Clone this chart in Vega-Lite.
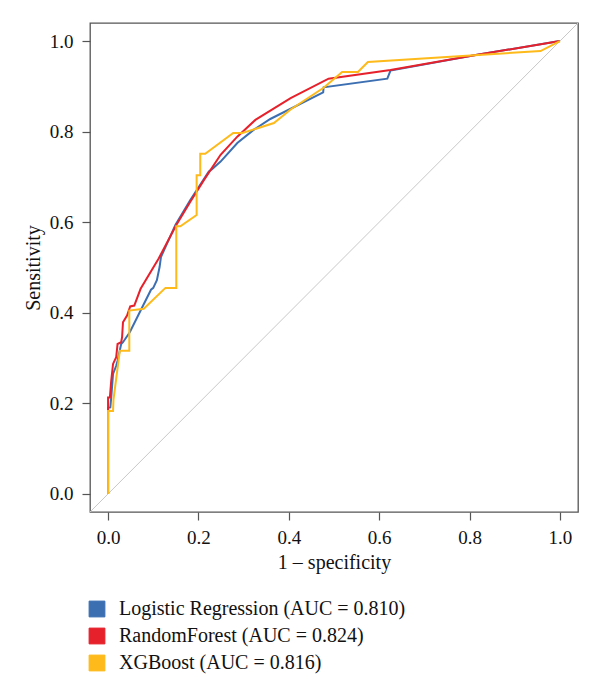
{
  "$schema": "https://vega.github.io/schema/vega-lite/v6.json",
  "width": 488,
  "height": 489,
  "autosize": {"type": "none"},
  "padding": {"left": 90, "top": 23, "right": 22, "bottom": 176},
  "background": "white",
  "config": {
    "font": "Liberation Serif",
    "view": {"stroke": "#555555", "strokeWidth": 1.3},
    "axis": {
      "grid": false,
      "domain": false,
      "tickColor": "#555555",
      "tickWidth": 1.2,
      "tickSize": 8,
      "labelFont": "Liberation Serif",
      "labelFontSize": 19,
      "labelColor": "#111111",
      "titleFont": "Liberation Serif",
      "titleFontSize": 20,
      "titleFontWeight": "normal",
      "titleColor": "#111111"
    }
  },
  "datasets": {
    "diag": [{"x": -0.04, "y": -0.04}, {"x": 1.04, "y": 1.04}],
    "roc": [
      {"model": "Logistic Regression (AUC = 0.810)", "i": 0, "x": 0, "y": 0},
      {"model": "Logistic Regression (AUC = 0.810)", "i": 1, "x": 0, "y": 0.19},
      {"model": "Logistic Regression (AUC = 0.810)", "i": 2, "x": 0.005, "y": 0.191},
      {"model": "Logistic Regression (AUC = 0.810)", "i": 3, "x": 0.007, "y": 0.213},
      {"model": "Logistic Regression (AUC = 0.810)", "i": 4, "x": 0.011, "y": 0.265},
      {"model": "Logistic Regression (AUC = 0.810)", "i": 5, "x": 0.018, "y": 0.283},
      {"model": "Logistic Regression (AUC = 0.810)", "i": 6, "x": 0.021, "y": 0.294},
      {"model": "Logistic Regression (AUC = 0.810)", "i": 7, "x": 0.029, "y": 0.331},
      {"model": "Logistic Regression (AUC = 0.810)", "i": 8, "x": 0.033, "y": 0.335},
      {"model": "Logistic Regression (AUC = 0.810)", "i": 9, "x": 0.048, "y": 0.357},
      {"model": "Logistic Regression (AUC = 0.810)", "i": 10, "x": 0.072, "y": 0.405},
      {"model": "Logistic Regression (AUC = 0.810)", "i": 11, "x": 0.095, "y": 0.451},
      {"model": "Logistic Regression (AUC = 0.810)", "i": 12, "x": 0.1, "y": 0.455},
      {"model": "Logistic Regression (AUC = 0.810)", "i": 13, "x": 0.108, "y": 0.472},
      {"model": "Logistic Regression (AUC = 0.810)", "i": 14, "x": 0.114, "y": 0.501},
      {"model": "Logistic Regression (AUC = 0.810)", "i": 15, "x": 0.117, "y": 0.523},
      {"model": "Logistic Regression (AUC = 0.810)", "i": 16, "x": 0.149, "y": 0.594},
      {"model": "Logistic Regression (AUC = 0.810)", "i": 17, "x": 0.182, "y": 0.649},
      {"model": "Logistic Regression (AUC = 0.810)", "i": 18, "x": 0.223, "y": 0.712},
      {"model": "Logistic Regression (AUC = 0.810)", "i": 19, "x": 0.23, "y": 0.717},
      {"model": "Logistic Regression (AUC = 0.810)", "i": 20, "x": 0.249, "y": 0.734},
      {"model": "Logistic Regression (AUC = 0.810)", "i": 21, "x": 0.286, "y": 0.775},
      {"model": "Logistic Regression (AUC = 0.810)", "i": 22, "x": 0.322, "y": 0.804},
      {"model": "Logistic Regression (AUC = 0.810)", "i": 23, "x": 0.359, "y": 0.828},
      {"model": "Logistic Regression (AUC = 0.810)", "i": 24, "x": 0.476, "y": 0.887},
      {"model": "Logistic Regression (AUC = 0.810)", "i": 25, "x": 0.477, "y": 0.898},
      {"model": "Logistic Regression (AUC = 0.810)", "i": 26, "x": 0.618, "y": 0.917},
      {"model": "Logistic Regression (AUC = 0.810)", "i": 27, "x": 0.625, "y": 0.935},
      {"model": "Logistic Regression (AUC = 0.810)", "i": 28, "x": 0.817, "y": 0.97},
      {"model": "Logistic Regression (AUC = 0.810)", "i": 29, "x": 1, "y": 1},
      {"model": "RandomForest (AUC = 0.824)", "i": 0, "x": 0, "y": 0},
      {"model": "RandomForest (AUC = 0.824)", "i": 1, "x": 0, "y": 0.213},
      {"model": "RandomForest (AUC = 0.824)", "i": 2, "x": 0.004, "y": 0.213},
      {"model": "RandomForest (AUC = 0.824)", "i": 3, "x": 0.007, "y": 0.25},
      {"model": "RandomForest (AUC = 0.824)", "i": 4, "x": 0.011, "y": 0.287},
      {"model": "RandomForest (AUC = 0.824)", "i": 5, "x": 0.018, "y": 0.302},
      {"model": "RandomForest (AUC = 0.824)", "i": 6, "x": 0.021, "y": 0.331},
      {"model": "RandomForest (AUC = 0.824)", "i": 7, "x": 0.029, "y": 0.335},
      {"model": "RandomForest (AUC = 0.824)", "i": 8, "x": 0.031, "y": 0.346},
      {"model": "RandomForest (AUC = 0.824)", "i": 9, "x": 0.033, "y": 0.379},
      {"model": "RandomForest (AUC = 0.824)", "i": 10, "x": 0.042, "y": 0.394},
      {"model": "RandomForest (AUC = 0.824)", "i": 11, "x": 0.049, "y": 0.414},
      {"model": "RandomForest (AUC = 0.824)", "i": 12, "x": 0.058, "y": 0.416},
      {"model": "RandomForest (AUC = 0.824)", "i": 13, "x": 0.072, "y": 0.453},
      {"model": "RandomForest (AUC = 0.824)", "i": 14, "x": 0.112, "y": 0.52},
      {"model": "RandomForest (AUC = 0.824)", "i": 15, "x": 0.151, "y": 0.594},
      {"model": "RandomForest (AUC = 0.824)", "i": 16, "x": 0.182, "y": 0.645},
      {"model": "RandomForest (AUC = 0.824)", "i": 17, "x": 0.212, "y": 0.693},
      {"model": "RandomForest (AUC = 0.824)", "i": 18, "x": 0.249, "y": 0.749},
      {"model": "RandomForest (AUC = 0.824)", "i": 19, "x": 0.286, "y": 0.789},
      {"model": "RandomForest (AUC = 0.824)", "i": 20, "x": 0.326, "y": 0.826},
      {"model": "RandomForest (AUC = 0.824)", "i": 21, "x": 0.404, "y": 0.874},
      {"model": "RandomForest (AUC = 0.824)", "i": 22, "x": 0.488, "y": 0.917},
      {"model": "RandomForest (AUC = 0.824)", "i": 23, "x": 0.625, "y": 0.936},
      {"model": "RandomForest (AUC = 0.824)", "i": 24, "x": 0.817, "y": 0.97},
      {"model": "RandomForest (AUC = 0.824)", "i": 25, "x": 1, "y": 1},
      {"model": "XGBoost (AUC = 0.816)", "i": 0, "x": 0, "y": 0},
      {"model": "XGBoost (AUC = 0.816)", "i": 1, "x": 0, "y": 0.183},
      {"model": "XGBoost (AUC = 0.816)", "i": 2, "x": 0.011, "y": 0.183},
      {"model": "XGBoost (AUC = 0.816)", "i": 3, "x": 0.012, "y": 0.209},
      {"model": "XGBoost (AUC = 0.816)", "i": 4, "x": 0.026, "y": 0.316},
      {"model": "XGBoost (AUC = 0.816)", "i": 5, "x": 0.047, "y": 0.316},
      {"model": "XGBoost (AUC = 0.816)", "i": 6, "x": 0.047, "y": 0.405},
      {"model": "XGBoost (AUC = 0.816)", "i": 7, "x": 0.079, "y": 0.409},
      {"model": "XGBoost (AUC = 0.816)", "i": 8, "x": 0.127, "y": 0.455},
      {"model": "XGBoost (AUC = 0.816)", "i": 9, "x": 0.151, "y": 0.455},
      {"model": "XGBoost (AUC = 0.816)", "i": 10, "x": 0.151, "y": 0.591},
      {"model": "XGBoost (AUC = 0.816)", "i": 11, "x": 0.16, "y": 0.591},
      {"model": "XGBoost (AUC = 0.816)", "i": 12, "x": 0.196, "y": 0.616},
      {"model": "XGBoost (AUC = 0.816)", "i": 13, "x": 0.196, "y": 0.704},
      {"model": "XGBoost (AUC = 0.816)", "i": 14, "x": 0.204, "y": 0.704},
      {"model": "XGBoost (AUC = 0.816)", "i": 15, "x": 0.204, "y": 0.751},
      {"model": "XGBoost (AUC = 0.816)", "i": 16, "x": 0.215, "y": 0.751},
      {"model": "XGBoost (AUC = 0.816)", "i": 17, "x": 0.277, "y": 0.797},
      {"model": "XGBoost (AUC = 0.816)", "i": 18, "x": 0.297, "y": 0.797},
      {"model": "XGBoost (AUC = 0.816)", "i": 19, "x": 0.367, "y": 0.819},
      {"model": "XGBoost (AUC = 0.816)", "i": 20, "x": 0.404, "y": 0.849},
      {"model": "XGBoost (AUC = 0.816)", "i": 21, "x": 0.477, "y": 0.897},
      {"model": "XGBoost (AUC = 0.816)", "i": 22, "x": 0.518, "y": 0.932},
      {"model": "XGBoost (AUC = 0.816)", "i": 23, "x": 0.553, "y": 0.932},
      {"model": "XGBoost (AUC = 0.816)", "i": 24, "x": 0.575, "y": 0.954},
      {"model": "XGBoost (AUC = 0.816)", "i": 25, "x": 0.957, "y": 0.978},
      {"model": "XGBoost (AUC = 0.816)", "i": 26, "x": 1, "y": 1}
    ]
  },
  "layer": [
    {
      "data": {"name": "diag"},
      "mark": {"type": "line", "color": "#c8c8c8", "strokeWidth": 1, "clip": true},
      "encoding": {
        "x": {"field": "x", "type": "quantitative", "scale": {"domain": [-0.04, 1.04], "nice": false, "zero": false}},
        "y": {"field": "y", "type": "quantitative", "scale": {"domain": [-0.04, 1.04], "nice": false, "zero": false}}
      }
    },
    {
      "data": {"name": "roc"},
      "mark": {"type": "line", "strokeWidth": 2, "clip": true},
      "encoding": {
        "x": {
          "field": "x", "type": "quantitative",
          "scale": {"domain": [-0.04, 1.04], "nice": false, "zero": false},
          "axis": {"values": [0, 0.2, 0.4, 0.6, 0.8, 1], "format": ".1f", "title": "1 – specificity", "labelPadding": 8, "titlePadding": 5}
        },
        "y": {
          "field": "y", "type": "quantitative",
          "scale": {"domain": [-0.04, 1.04], "nice": false, "zero": false},
          "axis": {"values": [0, 0.2, 0.4, 0.6, 0.8, 1], "format": ".1f", "title": "Sensitivity", "labelPadding": 9, "titlePadding": 6}
        },
        "color": {
          "field": "model", "type": "nominal",
          "scale": {
            "domain": ["Logistic Regression (AUC = 0.810)", "RandomForest (AUC = 0.824)", "XGBoost (AUC = 0.816)"],
            "range": ["#3C6FB2", "#E6212B", "#FDBA1A"]
          },
          "legend": {
            "title": null,
            "orient": "none",
            "legendX": -3,
            "legendY": 576,
            "padding": 0,
            "symbolType": "square",
            "symbolSize": 250,
            "symbolStrokeWidth": 1,
            "labelFont": "Liberation Serif",
            "labelFontSize": 20,
            "labelColor": "#111111",
            "labelOffset": 12,
            "rowPadding": 7,
            "labelLimit": 500,
            "encode": {
              "symbols": {
                "update": {
                  "fill": {"scale": "color", "field": "value"},
                  "stroke": {"value": "#333333"},
                  "fillOpacity": {"value": 1},
                  "strokeWidth": {"value": 1}
                }
              }
            }
          }
        },
        "order": {"field": "i", "type": "quantitative"}
      }
    }
  ]
}
